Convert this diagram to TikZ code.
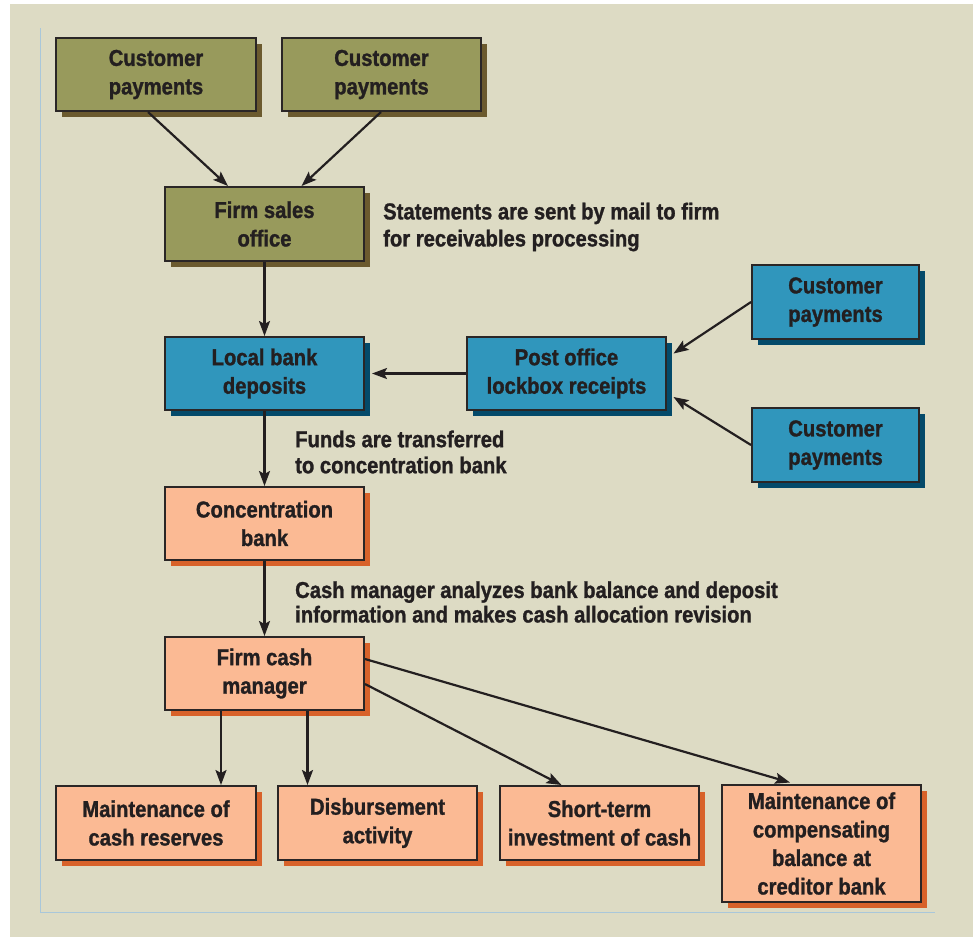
\documentclass[tikz,border=0pt]{standalone}
\usepackage{fontspec}
\setmainfont{Liberation Sans}[FakeStretch=0.88, BoldFeatures={FakeBold=1.2}]
\usetikzlibrary{shadows,arrows.meta}
\definecolor{bg}{HTML}{DDDBC4}
\definecolor{frameblue}{HTML}{A9C7DA}
\definecolor{olive}{HTML}{989A5C}
\definecolor{oliveshadow}{HTML}{6B5A2E}
\definecolor{bluefill}{HTML}{3096BC}
\definecolor{blueshadow}{HTML}{044A6A}
\definecolor{orangefill}{HTML}{FBBA94}
\definecolor{orangeshadow}{HTML}{D8622A}
\definecolor{ink}{HTML}{231F20}
\definecolor{boxline}{HTML}{2A2626}
\tikzset{
  box/.style={draw=boxline, line width=2pt, minimum width=199pt, minimum height=73pt,
    align=center, inner sep=0pt, text=ink,
    font=\bfseries\fontsize{23}{28.5}\selectfont},
  olivebox/.style={box, fill=olive, drop shadow={shadow xshift=6pt, shadow yshift=-6pt, opacity=1, fill=oliveshadow}},
  bluebox/.style={box, fill=bluefill, drop shadow={shadow xshift=6pt, shadow yshift=-6pt, opacity=1, fill=blueshadow}},
  orangebox/.style={box, fill=orangefill, drop shadow={shadow xshift=6pt, shadow yshift=-6pt, opacity=1, fill=orangeshadow}},
  conn/.style={draw=ink, line width=2.2pt, -{Stealth[length=15pt, width=11pt, inset=3pt]}},
  note/.style={anchor=west, align=left, inner sep=0pt, text=ink,
    font=\bfseries\fontsize{23}{27}\selectfont}
}
\begin{document}
\begin{tikzpicture}[x=1pt, y=-1pt]
\useasboundingbox (0,0) rectangle (973,937);
\fill[white] (0,0) rectangle (973,937);
\fill[bg] (10,4) rectangle (973,937);
\draw[frameblue, line width=1pt] (40,28) -- (40,912) -- (935,912);

\node[olivebox, minimum width=200pt] (cpA) at (156,74.5) {Customer\\payments};
\node[olivebox] (cpB) at (381.5,74.5) {Customer\\payments};
\node[olivebox, minimum height=74pt] (sales) at (264.5,224) {Firm sales\\office};
\node[bluebox] (local) at (264.5,373.5) {Local bank\\deposits};
\node[bluebox] (post) at (566.5,373.5) {Post office\\lockbox receipts};
\node[bluebox, minimum width=167pt, minimum height=74pt] (cpC) at (835.5,302) {Customer\\payments};
\node[bluebox, minimum width=167pt, minimum height=74pt] (cpD) at (835.5,445) {Customer\\payments};
\node[orangebox] (conc) at (264.5,523.5) {Concentration\\bank};
\node[orangebox] (cash) at (264.5,673.5) {Firm cash\\manager};
\node[orangebox, minimum width=200pt, minimum height=74pt] (res) at (156,823) {Maintenance of\\cash reserves};
\node[orangebox, minimum height=74pt] (disb) at (377.5,823) {Disbursement\\activity};
\node[orangebox, minimum height=74pt] (short) at (599.5,823) {Short-term\\investment of cash};
\node[orangebox, minimum height=117pt] (comp) at (821.5,843.5) {Maintenance of\\compensating\\balance at\\creditor bank};

\node[note] (n1) at (383,227) {Statements are sent by mail to firm\\for receivables processing};
\node[note, font=\bfseries\fontsize{23}{26}\selectfont] (n2) at (295,452) {Funds are transferred\\to concentration bank};
\node[note, font=\bfseries\fontsize{23}{24.5}\selectfont] (n3) at (295,602) {Cash manager analyzes bank balance and deposit\\information and makes cash allocation revision};

\draw[conn] ([xshift=-8pt]cpA.south) -- ([xshift=-36.5pt]sales.north);
\draw[conn] ([xshift=-0.5pt]cpB.south) -- ([xshift=37pt]sales.north);
\draw[conn] (sales.south) -- (local.north);
\draw[conn] (post.west) -- ([xshift=7pt]local.east);
\draw[conn] (cpC.west) -- ([xshift=6.5pt,yshift=20pt]post.east);
\draw[conn] (cpD.west) -- ([xshift=6.5pt,yshift=-23.5pt]post.east);
\draw[conn] (local.south) -- (conc.north);
\draw[conn] (conc.south) -- (cash.north);
\draw[conn] ([xshift=-43.5pt]cash.south) -- ([xshift=65pt]res.north);
\draw[conn] ([xshift=43pt]cash.south) -- ([xshift=-70pt]disb.north);
\draw[conn] ([yshift=-10.5pt]cash.east) -- ([xshift=-38pt]short.north);
\draw[conn] ([yshift=14.5pt]cash.east) -- ([xshift=-31.5pt,yshift=1.5pt]comp.north);
\end{tikzpicture}
\end{document}
